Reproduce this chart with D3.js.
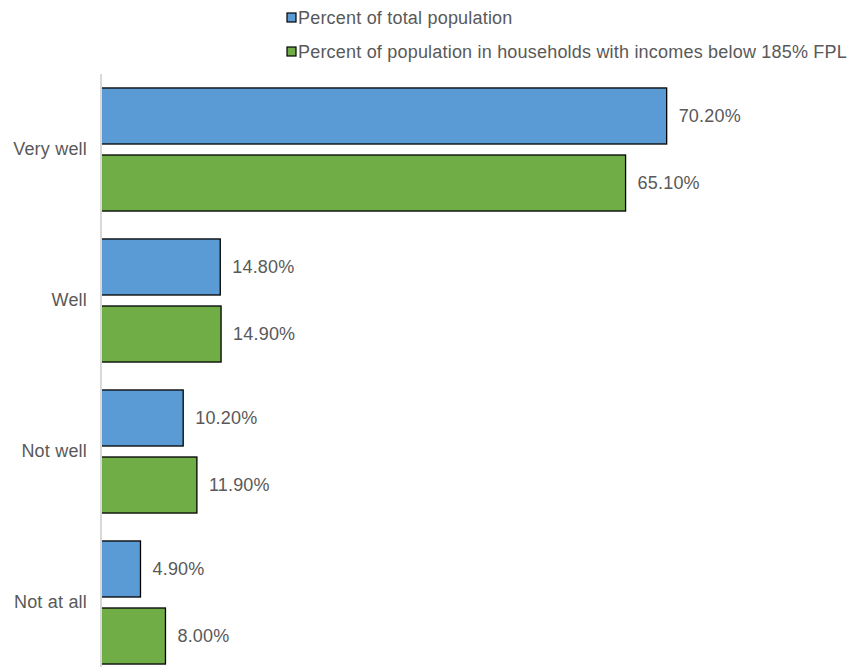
<!DOCTYPE html>
<html>
<head>
<meta charset="utf-8">
<script src="https://cdn.jsdelivr.net/npm/d3@7/dist/d3.min.js"></script>
<style>
  html, body { margin: 0; padding: 0; background: #fff; }
  svg { display: block; }
  text { font-family: "Liberation Sans", Arial, sans-serif; fill: #595959; letter-spacing: 0.2px; }
</style>
</head>
<body>
<svg id="chart" width="851" height="667"></svg>
<script>
// Responses, top to bottom
const categories = ["Very well", "Well", "Not well", "Not at all"];
const seriesNames = [
  "Percent of total population",
  "Percent of population in households with incomes below 185% FPL"
];
const totalPopulation = [70.2, 14.8, 10.2, 4.9];
const below185FPL = [65.1, 14.9, 11.9, 8.0];
const seriesColors = ["#5B9BD5", "#70AD47"];

const rows = categories.map((c, i) => ({
  category: c,
  values: [totalPopulation[i], below185FPL[i]]
}));

const svg = d3.select("#chart");
const fontSize = 18;

const x = d3.scaleLinear().domain([0, 80]).range([101, 101 + 8.058 * 80]);
const y0 = d3.scaleBand()
  .domain(categories)
  .range([74, 678])
  .paddingInner(0.185)
  .paddingOuter(0.0925);
const y1 = d3.scaleBand()
  .domain([0, 1])
  .range([0, y0.bandwidth()])
  .paddingInner(0.164);

// Bars
const groups = svg.selectAll("g.cat")
  .data(rows)
  .join("g")
  .attr("class", "cat")
  .attr("transform", d => `translate(0,${y0(d.category)})`);

groups.selectAll("rect")
  .data(d => d.values.map((v, s) => ({ v, s })))
  .join("rect")
  .attr("x", x(0))
  .attr("y", d => y1(d.s))
  .attr("width", d => x(d.v) - x(0))
  .attr("height", y1.bandwidth())
  .attr("fill", d => seriesColors[d.s])
  .attr("stroke", "#000")
  .attr("stroke-width", 1.3);

// Value labels
groups.selectAll("text.val")
  .data(d => d.values.map((v, s) => ({ v, s })))
  .join("text")
  .attr("class", "val")
  .attr("x", d => x(d.v) + 12)
  .attr("y", d => y1(d.s) + y1.bandwidth() / 2)
  .attr("dy", "0.35em")
  .style("font-size", fontSize + "px")
  .text(d => d.v.toFixed(2) + "%");

// Category axis
const axis = svg.append("g").attr("transform", `translate(${x(0)},0)`)
  .call(d3.axisLeft(y0).tickSize(0).tickPadding(14));
axis.select(".domain")
  .attr("d", `M0,74V678`)
  .attr("stroke", "#d9d9d9")
  .attr("stroke-width", 2);
axis.selectAll("text")
  .style("font-size", fontSize + "px")
  .style("font-family", "\"Liberation Sans\", Arial, sans-serif")
  .attr("fill", "#595959");

// Legend
const legend = svg.append("g");
const legendItems = legend.selectAll("g")
  .data(seriesNames)
  .join("g")
  .attr("transform", (d, i) => `translate(287,${18 + i * 34})`);
legendItems.append("rect")
  .attr("x", 0).attr("y", -5)
  .attr("width", 9).attr("height", 9)
  .attr("fill", (d, i) => seriesColors[i])
  .attr("stroke", "#000")
  .attr("stroke-width", 1.2);
legendItems.append("text")
  .attr("x", 11)
  .attr("y", 0)
  .attr("dy", "0.35em")
  .style("font-size", fontSize + "px")
  .text(d => d);
</script>
</body>
</html>
